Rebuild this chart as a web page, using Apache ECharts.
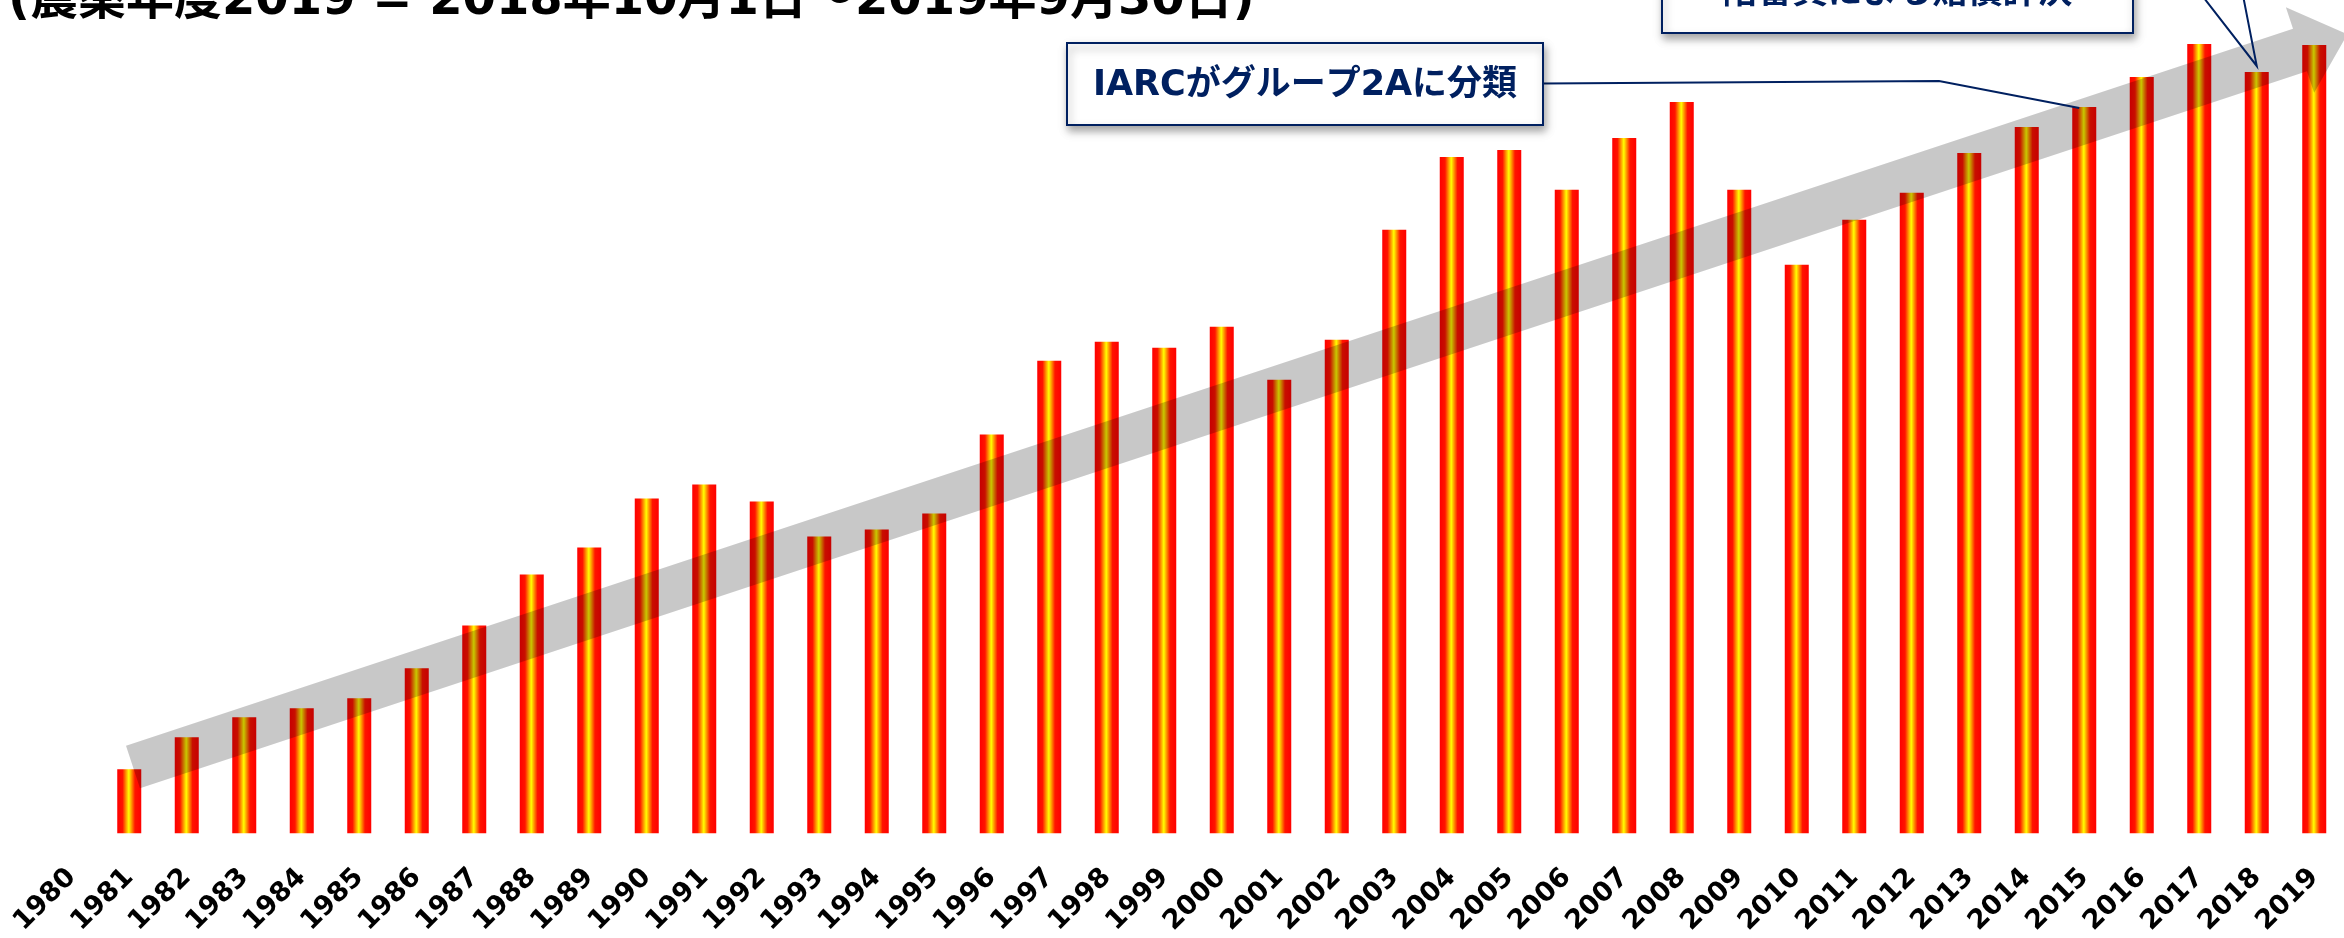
<!DOCTYPE html>
<html>
<head>
<meta charset="utf-8">
<script src="https://cdn.jsdelivr.net/npm/echarts@6/dist/echarts.min.js"></script>
<style>
html,body{margin:0;padding:0;background:#fff;}
#chart{width:2344px;height:938px;}
</style>
</head>
<body>
<div id="chart"></div>
<script>
// 年（1980は値なし）
var years = ['1980','1981','1982','1983','1984','1985','1986','1987','1988','1989',
    '1990','1991','1992','1993','1994','1995','1996','1997','1998','1999',
    '2000','2001','2002','2003','2004','2005','2006','2007','2008','2009',
    '2010','2011','2012','2013','2014','2015','2016','2017','2018','2019'];
// 棒の高さ（目盛りなしのため相対値）
var values = [null, 64, 96, 116, 125, 135, 165, 208, 259, 286,
    335, 349, 332, 297, 304, 320, 399, 473, 492, 486,
    507, 454, 494, 604, 677, 684, 644, 696, 732, 644,
    569, 614, 641, 681, 707, 727, 757, 790, 762, 789];
var titleText = '(農薬年度2019 = 2018年10月1日～2019年9月30日)';
var noteYears = ['2015', '2018'];
var noteTexts = ['IARCがグループ2Aに分類', '陪審員による賠償評決'];

var navy = '#002060';
var fontLatin = '"DejaVu Sans", "Noto Sans CJK JP", sans-serif';

var mychart = echarts.init(document.getElementById('chart'));

var option = {
    backgroundColor: '#fff',
    animation: false,
    grid: {left: 43, right: 1, top: 34, bottom: 104},
    xAxis: {
        type: 'category',
        data: years,
        axisLine: {show: false},
        axisTick: {show: false},
        axisLabel: {
            interval: 0,
            rotate: 45,
            margin: 40,
            color: '#000',
            fontSize: 27,
            fontWeight: 'bold',
            fontFamily: fontLatin
        }
    },
    yAxis: {
        type: 'value',
        min: 0,
        max: 800,
        show: false,
        splitLine: {show: false}
    },
    series: [{
        type: 'bar',
        data: values,
        barWidth: 24,
        itemStyle: {
            color: new echarts.graphic.LinearGradient(0, 0, 1, 0, [
                {offset: 0, color: '#FF0000'},
                {offset: 0.22, color: '#FF1400'},
                {offset: 0.48, color: '#FFFF00'},
                {offset: 0.74, color: '#FF1400'},
                {offset: 1, color: '#FF0000'}
            ])
        }
    }]
};
mychart.setOption(option);

// 灰色の矢印（左下から右上へ）
var tail = [133, 767];
var headBase = [2300, 50];
var dx = headBase[0] - tail[0], dy = headBase[1] - tail[1];
var len = Math.sqrt(dx * dx + dy * dy);
var d = [dx / len, dy / len];
var n = [-d[1], d[0]];
var hw = 22.3, hh = 45, hl = 50;
function pt(p, a, b) {
    return [p[0] + n[0] * a + d[0] * b, p[1] + n[1] * a + d[1] * b];
}
var arrowPts = [
    pt(tail, -hw, 0), pt(headBase, -hw, 0), pt(headBase, -hh, 0),
    pt(headBase, 0, hl),
    pt(headBase, hh, 0), pt(headBase, hw, 0), pt(tail, hw, 0)
];

// 吹き出しの位置
var p2015 = mychart.convertToPixel({gridIndex: 0}, [noteYears[0], values[years.indexOf(noteYears[0])]]);
var p2018 = mychart.convertToPixel({gridIndex: 0}, [noteYears[1], values[years.indexOf(noteYears[1])]]);

var box1 = {x: 1067, y: 43, w: 476, h: 82};
var box2 = {x: 1662, y: -49, w: 471, h: 82};

function noteBox(b, text) {
    return [{
        type: 'rect',
        z: 30,
        shape: {x: b.x, y: b.y, width: b.w, height: b.h},
        style: {
            fill: '#fff', stroke: navy, lineWidth: 2,
            shadowBlur: 8, shadowOffsetX: 2, shadowOffsetY: 5,
            shadowColor: 'rgba(0,0,0,0.35)'
        }
    }, {
        type: 'text',
        z: 31,
        x: b.x + b.w / 2,
        y: b.y + b.h / 2 + 2,
        style: {
            text: text,
            fill: navy,
            fontSize: 35,
            fontWeight: 'bold',
            fontFamily: fontLatin,
            align: 'center',
            verticalAlign: 'middle'
        }
    }];
}

var elements = [{
    type: 'polygon',
    z: 10,
    shape: {points: arrowPts},
    style: {fill: 'rgba(0,0,0,0.216)'}
}, {
    type: 'text',
    z: 30,
    x: 8,
    y: 2,
    style: {
        text: titleText,
        fill: '#000',
        fontSize: 48,
        fontWeight: 'bold',
        fontFamily: fontLatin,
        align: 'left',
        verticalAlign: 'middle'
    }
}, {
    type: 'polyline',
    z: 25,
    shape: {points: [[box1.x + box1.w, 83.5], [1939, 81], [p2015[0] - 5, p2015[1] + 1]]},
    style: {stroke: navy, lineWidth: 2, fill: null}
}, {
    type: 'polyline',
    z: 25,
    shape: {points: [[2190, -20], [p2018[0], p2018[1] - 6], [2240, -20]]},
    style: {stroke: navy, lineWidth: 2, fill: null}
}];
elements = elements.concat(noteBox(box1, noteTexts[0]), noteBox(box2, noteTexts[1]));

mychart.setOption({graphic: {elements: elements}});
</script>
</body>
</html>
